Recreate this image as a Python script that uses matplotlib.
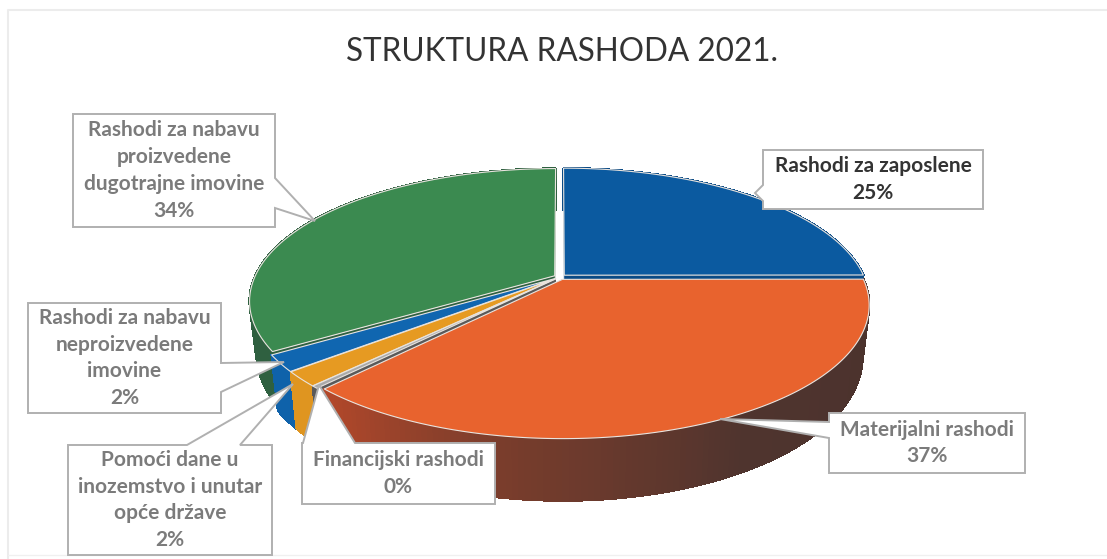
import numpy as np
import matplotlib
matplotlib.use("Agg")
import matplotlib.pyplot as plt
from matplotlib.colors import to_rgb

# ---------------------------------------------------------------------------
# Data
# ---------------------------------------------------------------------------
TITLE = "STRUKTURA RASHODA 2021."
NAMES = [
    "Rashodi za zaposlene",
    "Materijalni rashodi",
    "Financijski rashodi",
    "Pomoći dane u\ninozemstvo i unutar\nopće države",
    "Rashodi za nabavu\nneproizvedene\nimovine",
    "Rashodi za nabavu\nproizvedene\ndugotrajne imovine",
]
VALUES = [25, 37, 0.3, 1.8, 2, 34]

TOP_COLORS = ["#0b5aa0", "#e8632e", "#a9a9a9", "#e69a22", "#1066b0", "#3b8a50"]
SIDE_COLORS = ["#0a4a85", "#4c342e", "#5a5a5a", "#df9520", "#0f62aa", "#2f6040"]
TEXT_COLORS = ["#333333", "#7b7b7b", "#7b7b7b", "#7b7b7b", "#7b7b7b", "#7b7b7b"]
# (angle from top, colour) stops of the shaded rim of the orange slice
ORANGE_RIM = [(90, "#4a322d"), (150, "#4f342e"), (190, "#7a3d2c"), (224, "#b5482a")]

# callout boxes: left, top, right, bottom, pointer base a, tip, pointer base b
CALLOUTS = [
    (763, 150, 983, 209, (763, 185), (755, 193), (763, 201)),
    (829, 413, 1025, 473, (829, 422), (720, 419), (829, 438)),
    (302, 443, 495, 504, (303, 443), (319, 385), (355, 443)),
    (68, 445, 272, 555, (187, 445), (293, 384), (240, 445)),
    (28, 303, 221, 413, (221, 363), (284, 362), (221, 392)),
    (73, 114, 275, 227, (275, 178), (315, 221), (275, 208)),
]

CX, CY = 560, 277
A, B, P = 300, 128, 0.19
DEPTH = 50
EXPLODE = 0.02


def project(theta, r=1.0, z=0.0, shift=(0.0, 0.0)):
    """Map pie angle (deg clockwise from top) to picture pixels with perspective."""
    t = np.radians(theta)
    u = r * np.sin(t) + shift[0]
    v = r * np.cos(t) + shift[1]
    w = 1 + P * v
    x = CX + A * u / w * (1 - 0.022 * z)
    y = CY - B * v / w + DEPTH * z / w
    return x, y


fig = plt.figure(figsize=(11.07, 5.59), dpi=100)
ax = fig.add_axes([0, 0, 1, 1])
ax.set_xlim(0, 1107)
ax.set_ylim(559, 0)
ax.axis("off")
plt.rcParams["font.family"] = ["Lato", "DejaVu Sans"]

# chart frame
ax.plot([8, 8, 1107], [559, 10, 10], color="#ececec", lw=1.5)
ax.plot([8, 1107], [555, 555], color="#f0f0f0", lw=1.0)

ax.text(562, 52, TITLE, ha="center", va="center", fontsize=22.7, color="#333333")

fractions = np.array(VALUES) / sum(VALUES)
edges = np.concatenate([[0], np.cumsum(fractions) * 360])


def shift_of(i):
    mid = np.radians((edges[i] + edges[i + 1]) / 2)
    return EXPLODE * np.sin(mid), EXPLODE * np.cos(mid)


def rim_color(i, ang):
    if i != 1:
        return SIDE_COLORS[i]
    stops = [s[0] for s in ORANGE_RIM]
    rgb = np.array([to_rgb(s[1]) for s in ORANGE_RIM])
    return tuple(np.interp(ang, stops, rgb[:, k]) for k in range(3))


paint_order = [5, 4, 3, 2, 0, 1]

# walls first, then the top faces over them
for i in paint_order:
    s = shift_of(i)
    th = np.linspace(edges[i], edges[i + 1], max(int(edges[i + 1] - edges[i]) + 2, 3))
    # radial wall at both ends of the slice
    for end in (edges[i], edges[i + 1]):
        x0, y0 = project(end, 0, 0, s)
        x1, y1 = project(end, 1, 0, s)
        x2, y2 = project(end, 1, 1, s)
        x3, y3 = project(end, 0, 1, s)
        ax.fill([x0, x1, x2, x3], [y0, y1, y2, y3], color=SIDE_COLORS[i], lw=0)
    for a0, a1 in zip(th[:-1], th[1:]):
        x0, y0 = project(a0, 1, 0, s)
        x1, y1 = project(a1, 1, 0, s)
        x2, y2 = project(a1, 1, 1, s)
        x3, y3 = project(a0, 1, 1, s)
        ax.fill([x0, x1, x2, x3], [y0, y1, y2, y3],
                color=rim_color(i, (a0 + a1) / 2), lw=1.0, antialiased=False)

for i in paint_order:
    s = shift_of(i)
    th = np.linspace(edges[i], edges[i + 1], max(int(edges[i + 1] - edges[i]) * 2, 4))
    x, y = project(th, 1, 0, s)
    ax_x, ax_y = project(0, 0, 0, s)
    ax.fill(np.r_[ax_x, x], np.r_[ax_y, y], facecolor=TOP_COLORS[i],
            edgecolor="#e9e4df", lw=0.8, joinstyle="round")

# callouts
for i, box in enumerate(CALLOUTS):
    left, top, right, bottom, pa, tip, pb = box
    if pa[0] == left:
        xs = [left, pb[0], tip[0], pa[0], left, right, right]
        ys = [bottom, pb[1], tip[1], pa[1], top, top, bottom]
    elif pa[0] == right:
        xs = [left, left, right, pa[0], tip[0], pb[0], right]
        ys = [bottom, top, top, pa[1], tip[1], pb[1], bottom]
    else:
        xs = [left, pa[0], tip[0], pb[0], right, right, left]
        ys = [top, pa[1], tip[1], pb[1], top, bottom, bottom]
    ax.fill(xs, ys, facecolor="white", edgecolor="#b0b0b0", lw=1.4, closed=True, zorder=5)
    label = f"{NAMES[i]}\n{round(VALUES[i])}%"
    ax.text((left + right) / 2, (top + bottom) / 2, label, ha="center", va="center",
            fontsize=15, fontweight="bold", color=TEXT_COLORS[i], linespacing=1.43, zorder=6)

fig.savefig("out.png", dpi=100)
